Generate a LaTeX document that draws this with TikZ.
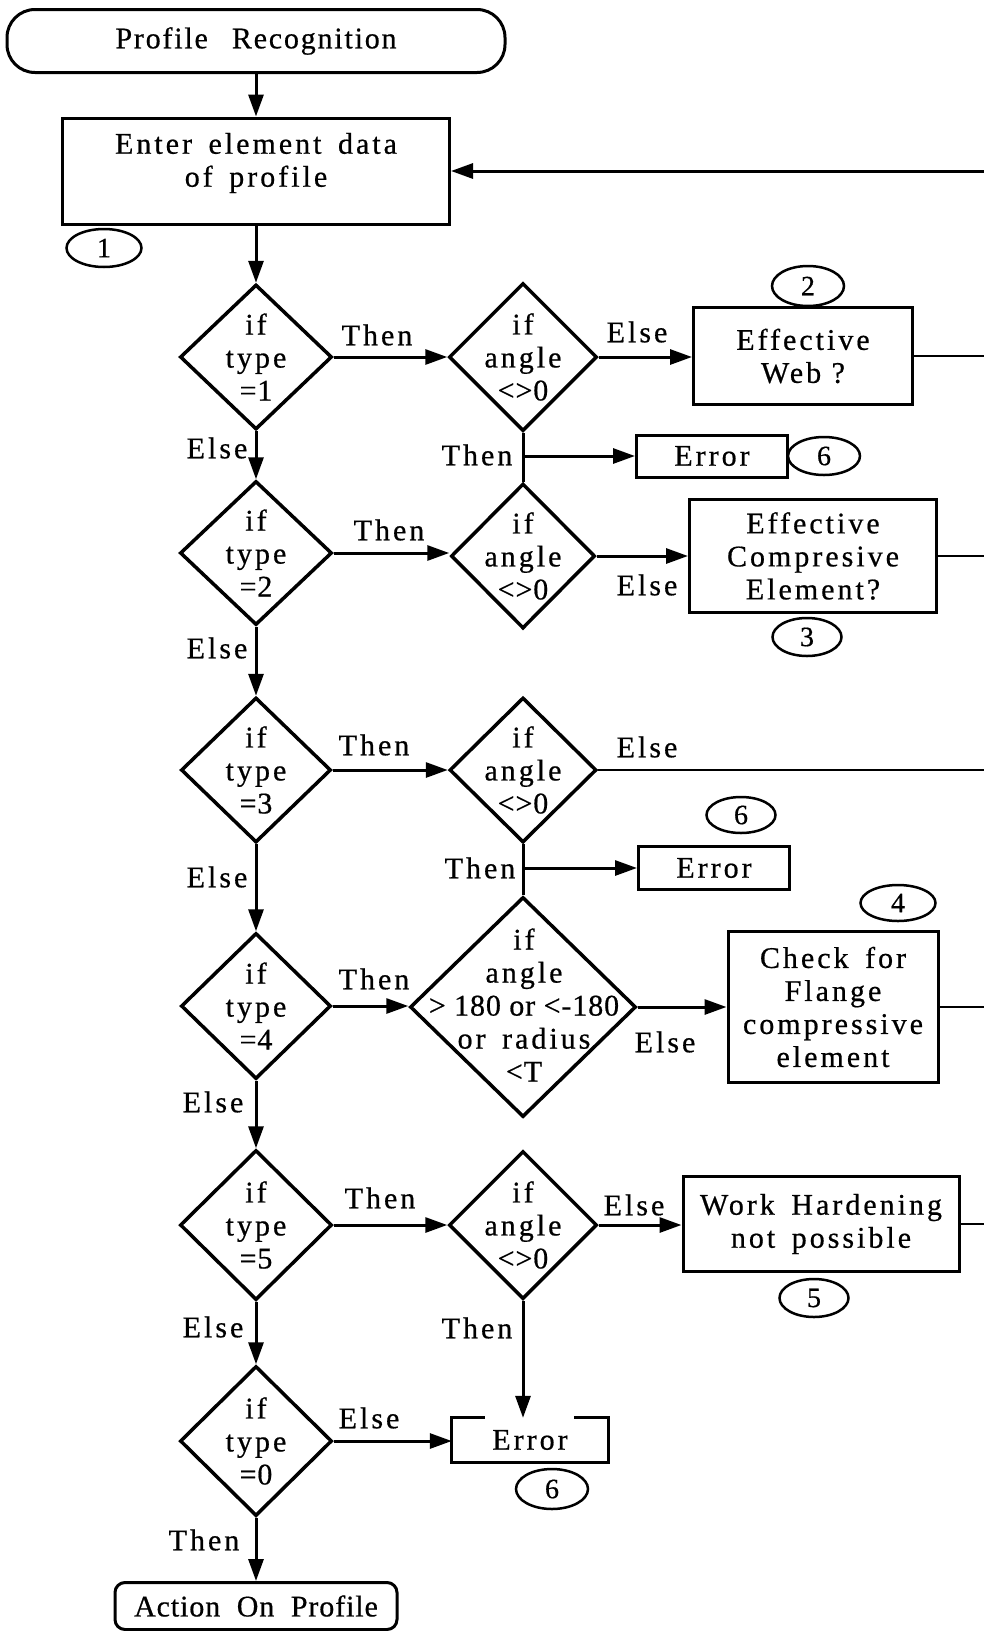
\documentclass[tikz,border=0pt]{standalone}
\usepackage{fontspec}
\setmainfont{Liberation Serif}
\newfontfamily\lsfont{Liberation Serif}[LetterSpace=10,FakeBold=0.6]
\newfontfamily\msfont{Liberation Serif}[LetterSpace=6,FakeBold=0.6]
\newfontfamily\tsfont{Liberation Serif}[LetterSpace=3,FakeBold=0.6]
\usetikzlibrary{shapes.geometric,arrows.meta}
\newcommand\wgap{\hspace{0.55em}}
\begin{document}
\begin{tikzpicture}[x=1pt,y=-1pt,
  txt/.style={font=\lsfont\fontsize{30}{33}\selectfont, inner sep=0pt, align=center},
  box/.style={draw, line width=3pt, inner sep=0pt, align=center, font=\lsfont\fontsize{30}{33}\selectfont},
  dia/.style={draw, diamond, line width=3.5pt, inner sep=0pt},
  num/.style={draw, ellipse, line width=2.5pt, inner sep=0pt, font=\tsfont\fontsize{28}{30}\selectfont},
  conn/.style={line width=3pt},
  arr/.style={conn, -{Triangle[length=22pt,width=15pt]}},
  ret/.style={line width=2.5pt},
]
\useasboundingbox (0,0) rectangle (984,1631);
\coordinate (R) at (984,0);

% start / end
\node[draw, line width=3pt, rounded corners=28pt, minimum width=498pt, minimum height=63pt, inner sep=0pt,
      font=\msfont\fontsize{30}{33}\selectfont] (prof) at (256,41) {Profile\hspace{0.8em}Recognition};
\node[draw, line width=3pt, minimum width=387pt, minimum height=106pt, inner sep=0pt] (enter) at (256,171) {};
\node[txt] (entertxt) at (256,163) {Enter\wgap element\wgap data\\of\wgap profile};
\node[num, minimum width=75pt, minimum height=38pt] (c1) at (104,248) {1};

% row 1
\node[dia, minimum width=152pt, minimum height=145pt] (d1) at (256,357) {};
\node[txt] (d1t) at (d1) {if\\type\\{\tsfont =1}};
\node[dia, minimum width=148pt, minimum height=148pt] (a1) at (523,357) {};
\node[txt] (a1t) at (a1) {if\\angle\\{\tsfont <>0}};
\node[box, minimum width=219pt, minimum height=97pt] (ew) at (803,356) {Effective\\Web ?};
\node[num, minimum width=72pt, minimum height=40pt] (c2) at (808,286) {2};
\node[box, minimum width=151pt, minimum height=42pt] (err1) at (712,456) {Error};
\node[num, minimum width=72pt, minimum height=38pt] (c6a) at (824,456) {6};

% row 2
\node[dia, minimum width=152pt, minimum height=144pt] (d2) at (256,553) {};
\node[txt] (d2t) at (d2) {if\\type\\{\tsfont =2}};
\node[dia, minimum width=144pt, minimum height=145pt] (a2) at (523,556) {};
\node[txt] (a2t) at (a2) {if\\angle\\{\tsfont <>0}};
\node[box, minimum width=247pt, minimum height=113pt] (ec) at (813,556) {Effective\\Compresive\\Element?};
\node[num, minimum width=69pt, minimum height=38pt] (c3) at (807,637) {3};

% row 3
\node[dia, minimum width=150pt, minimum height=145pt] (d3) at (256,770) {};
\node[txt] (d3t) at (d3) {if\\type\\{\tsfont =3}};
\node[dia, minimum width=147pt, minimum height=145pt] (a3) at (523,770) {};
\node[txt] (a3t) at (a3) {if\\angle\\{\tsfont <>0}};
\node[num, minimum width=69pt, minimum height=36pt] (c6b) at (741,815) {6};
\node[box, minimum width=151pt, minimum height=43pt] (err2) at (714,868) {Error};

% row 4
\node[dia, minimum width=150pt, minimum height=146pt] (d4) at (256,1006) {};
\node[txt] (d4t) at (d4) {if\\type\\{\tsfont =4}};
\node[dia, minimum width=226pt, minimum height=220pt] (a4) at (523,1007) {};
\node[txt] (a4t) at (524,1005) {if\\angle\\{\tsfont > 180 or <-180}\\or\wgap radius\\{\tsfont <T}};
\node[box, minimum width=210pt, minimum height=151pt] (fl) at (833,1007) {Check\wgap for\\Flange\\compressive\\element};
\node[num, minimum width=75pt, minimum height=36pt] (c4) at (898,903) {4};

% row 5
\node[dia, minimum width=152pt, minimum height=150pt] (d5) at (256,1225) {};
\node[txt] (d5t) at (d5) {if\\type\\{\tsfont =5}};
\node[dia, minimum width=148pt, minimum height=148pt] (a5) at (523,1225) {};
\node[txt] (a5t) at (a5) {if\\angle\\{\tsfont <>0}};
\node[box, minimum width=276pt, minimum height=95pt] (wh) at (821,1224) {Work\wgap Hardening\\not\wgap possible};
\node[num, minimum width=69pt, minimum height=38pt] (c5) at (814,1298) {5};

% row 6
\node[dia, minimum width=152pt, minimum height=150pt] (d6) at (256,1441) {};
\node[txt] (d6t) at (d6) {if\\type\\{\tsfont =0}};
\node[inner sep=0pt, minimum width=156pt, minimum height=44pt, font=\lsfont\fontsize{30}{33}\selectfont] (err3) at (530,1440) {Error};
\draw[line width=3pt] ([xshift=33pt]err3.north west) -- (err3.north west) -- (err3.south west)
   -- (err3.south east) -- (err3.north east) -- ([xshift=-34pt]err3.north east);
\node[num, minimum width=72pt, minimum height=40pt] (c6c) at (552,1489) {6};
\node[draw, line width=3pt, rounded corners=10pt, minimum width=282pt, minimum height=47pt, inner sep=0pt,
      font=\tsfont\fontsize{30}{33}\selectfont] (act) at (256,1606) {Action\wgap On\wgap Profile};

% connectors
\draw[arr] (prof.south) -- (enter.north);
\draw[arr] (enter.east -| R) -- (enter.east);
\draw[arr] (enter.south) -- (d1.north);

\draw[arr] (d1.east) -- (a1.west);
\draw[arr] (a1.east) -- (a1.east -| ew.west);
\draw[ret] (ew.east) -- (ew.east -| R);
\draw[conn] (a1.south) -- (a2.north);
\draw[arr] (a1.south |- err1.west) -- (err1.west);
\draw[arr] (d1.south) -- (d2.north);

\draw[arr] (d2.east) -- (d2.east -| a2.west);
\draw[arr] (a2.east) -- (a2.east -| ec.west);
\draw[ret] (ec.east) -- (ec.east -| R);
\draw[arr] (d2.south) -- (d3.north);

\draw[arr] (d3.east) -- (a3.west);
\draw[ret] (a3.east) -- (a3.east -| R);
\draw[conn] (a3.south) -- (a4.north);
\draw[arr] (a3.south |- err2.west) -- (err2.west);
\draw[arr] (d3.south) -- (d4.north);

\draw[arr] (d4.east) -- (d4.east -| a4.west);
\draw[arr] (a4.east) -- (a4.east -| fl.west);
\draw[ret] (fl.east) -- (fl.east -| R);
\draw[arr] (d4.south) -- (d5.north);

\draw[arr] (d5.east) -- (a5.west);
\draw[arr] (a5.east) -- (a5.east -| wh.west);
\draw[ret] (wh.east) -- (wh.east -| R);
\draw[arr] (a5.south) -- (a5.south |- err3.north);
\draw[arr] (d5.south) -- (d6.north);

\draw[arr] (d6.east) -- (d6.east -| err3.west);
\draw[arr] (d6.south) -- (act.north);

% labels
\node[txt] (l1) at (377,335) {Then};
\node[txt] (l2) at (637,332) {Else};
\node[txt] (l3) at (477,455) {Then};
\node[txt] (l4) at (217,448) {Else};
\node[txt] (l5) at (389,530) {Then};
\node[txt] (l6) at (647,585) {Else};
\node[txt] (l7) at (217,648) {Else};
\node[txt] (l8) at (374,745) {Then};
\node[txt] (l9) at (647,747) {Else};
\node[txt] (l10) at (480,868) {Then};
\node[txt] (l11) at (217,877) {Else};
\node[txt] (l12) at (374,979) {Then};
\node[txt] (l13) at (665,1042) {Else};
\node[txt] (l14) at (213,1102) {Else};
\node[txt] (l15) at (380,1198) {Then};
\node[txt] (l16) at (634,1205) {Else};
\node[txt] (l17) at (477,1328) {Then};
\node[txt] (l18) at (213,1327) {Else};
\node[txt] (l19) at (369,1418) {Else};
\node[txt] (l20) at (204,1540) {Then};
\end{tikzpicture}
\end{document}
